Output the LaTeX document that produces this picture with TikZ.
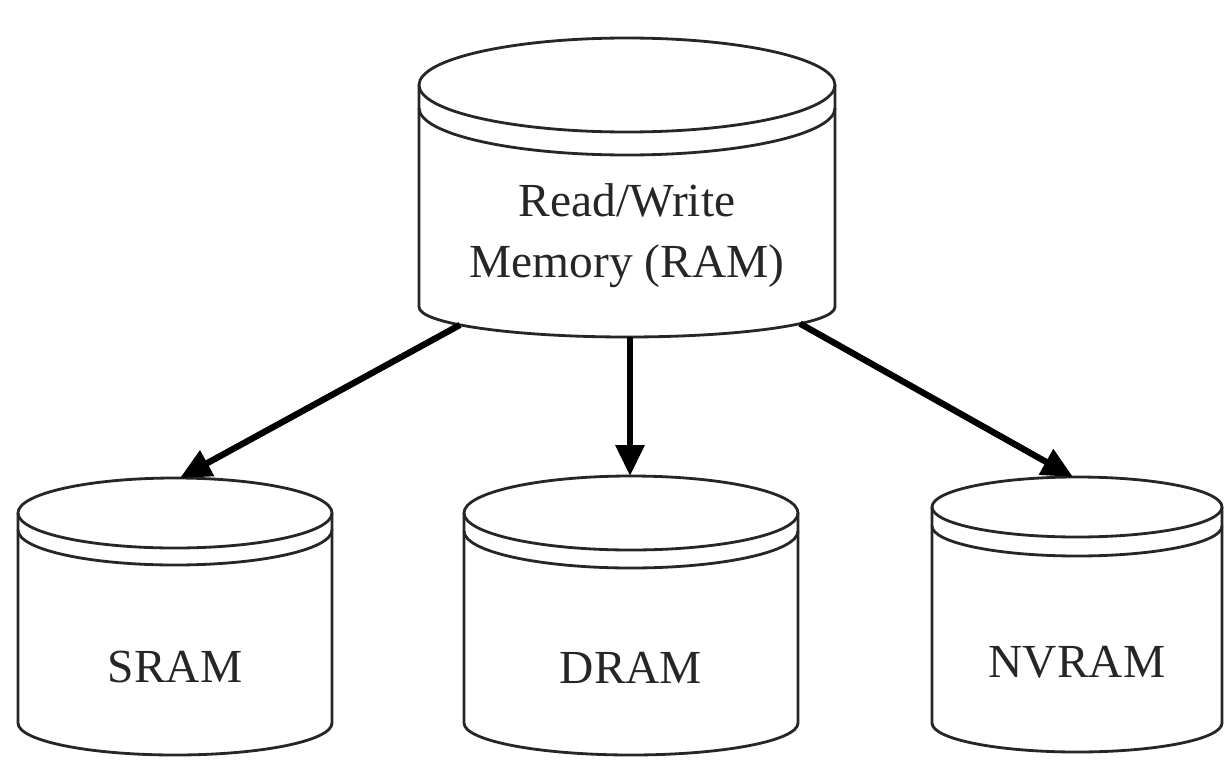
\documentclass[tikz,border=0pt]{standalone}
\usepackage{fontspec}
\setmainfont{Liberation Serif}
\usetikzlibrary{arrows.meta}
\begin{document}
\begin{tikzpicture}[x=0.02cm,y=0.02cm,
    drum/.style={draw=black!85,line width=1.6pt},
    memlabel/.style={draw=none,text=black!85,align=center,font=\fontsize{27}{34.7}\selectfont},
    feed/.style={draw=black,line width=3.6pt,-{Triangle[length=0.62cm,width=0.56cm]}}]
  \useasboundingbox (0,0) rectangle (1231,-761);
  % top drum
  \begin{scope}[shift={(627,-85)}]
    \draw[drum] (0,0) ellipse [x radius=208, y radius=47];
    \draw[drum] (-208,-23) arc [start angle=180, end angle=360, x radius=208, y radius=47];
    \draw[drum] (-208,0) -- (-208,-222) arc [start angle=180, end angle=360, x radius=208, y radius=30] -- (208,0);
    \coordinate (ram-sw) at ([shift={(0,-222)}]216.6:208 and 30);
    \coordinate (ram-s) at (3,-252);
    \coordinate (ram-se) at ([shift={(0,-222)}]326.3:208 and 30);
    \node[memlabel] (ram) at (0,-151) {Read/Write\\Memory (RAM)};
  \end{scope}
  % bottom drums
  \begin{scope}[shift={(175,-513)}]
    \draw[drum] (0,0) ellipse [x radius=157, y radius=35];
    \draw[drum] (-157,-17) arc [start angle=180, end angle=360, x radius=157, y radius=35];
    \draw[drum] (-157,0) -- (-157,-210) arc [start angle=180, end angle=360, x radius=157, y radius=32] -- (157,0);
    \coordinate (sram-top) at (5,35);
    \node[memlabel] (sram) at (0,-154) {SRAM};
  \end{scope}
  \begin{scope}[shift={(631,-513)}]
    \draw[drum] (0,0) ellipse [x radius=167, y radius=37];
    \draw[drum] (-167,-18) arc [start angle=180, end angle=360, x radius=167, y radius=37];
    \draw[drum] (-167,0) -- (-167,-210) arc [start angle=180, end angle=360, x radius=167, y radius=32] -- (167,0);
    \coordinate (dram-top) at (-1,37);
    \node[memlabel] (dram) at (0,-155) {DRAM};
  \end{scope}
  \begin{scope}[shift={(1077,-507)}]
    \draw[drum] (0,0) ellipse [x radius=145, y radius=30];
    \draw[drum] (-145,-19) arc [start angle=180, end angle=360, x radius=145, y radius=30];
    \draw[drum] (-145,0) -- (-145,-216) arc [start angle=180, end angle=360, x radius=145, y radius=29] -- (145,0);
    \coordinate (nvram-top) at (-4,30);
    \node[memlabel] (nvram) at (0,-155) {NVRAM};
  \end{scope}
  % arrows
  \draw[feed] (ram-sw) -- (sram-top);
  \draw[feed] (ram-s) -- (dram-top);
  \draw[feed] (ram-se) -- (nvram-top);
\end{tikzpicture}
\end{document}
